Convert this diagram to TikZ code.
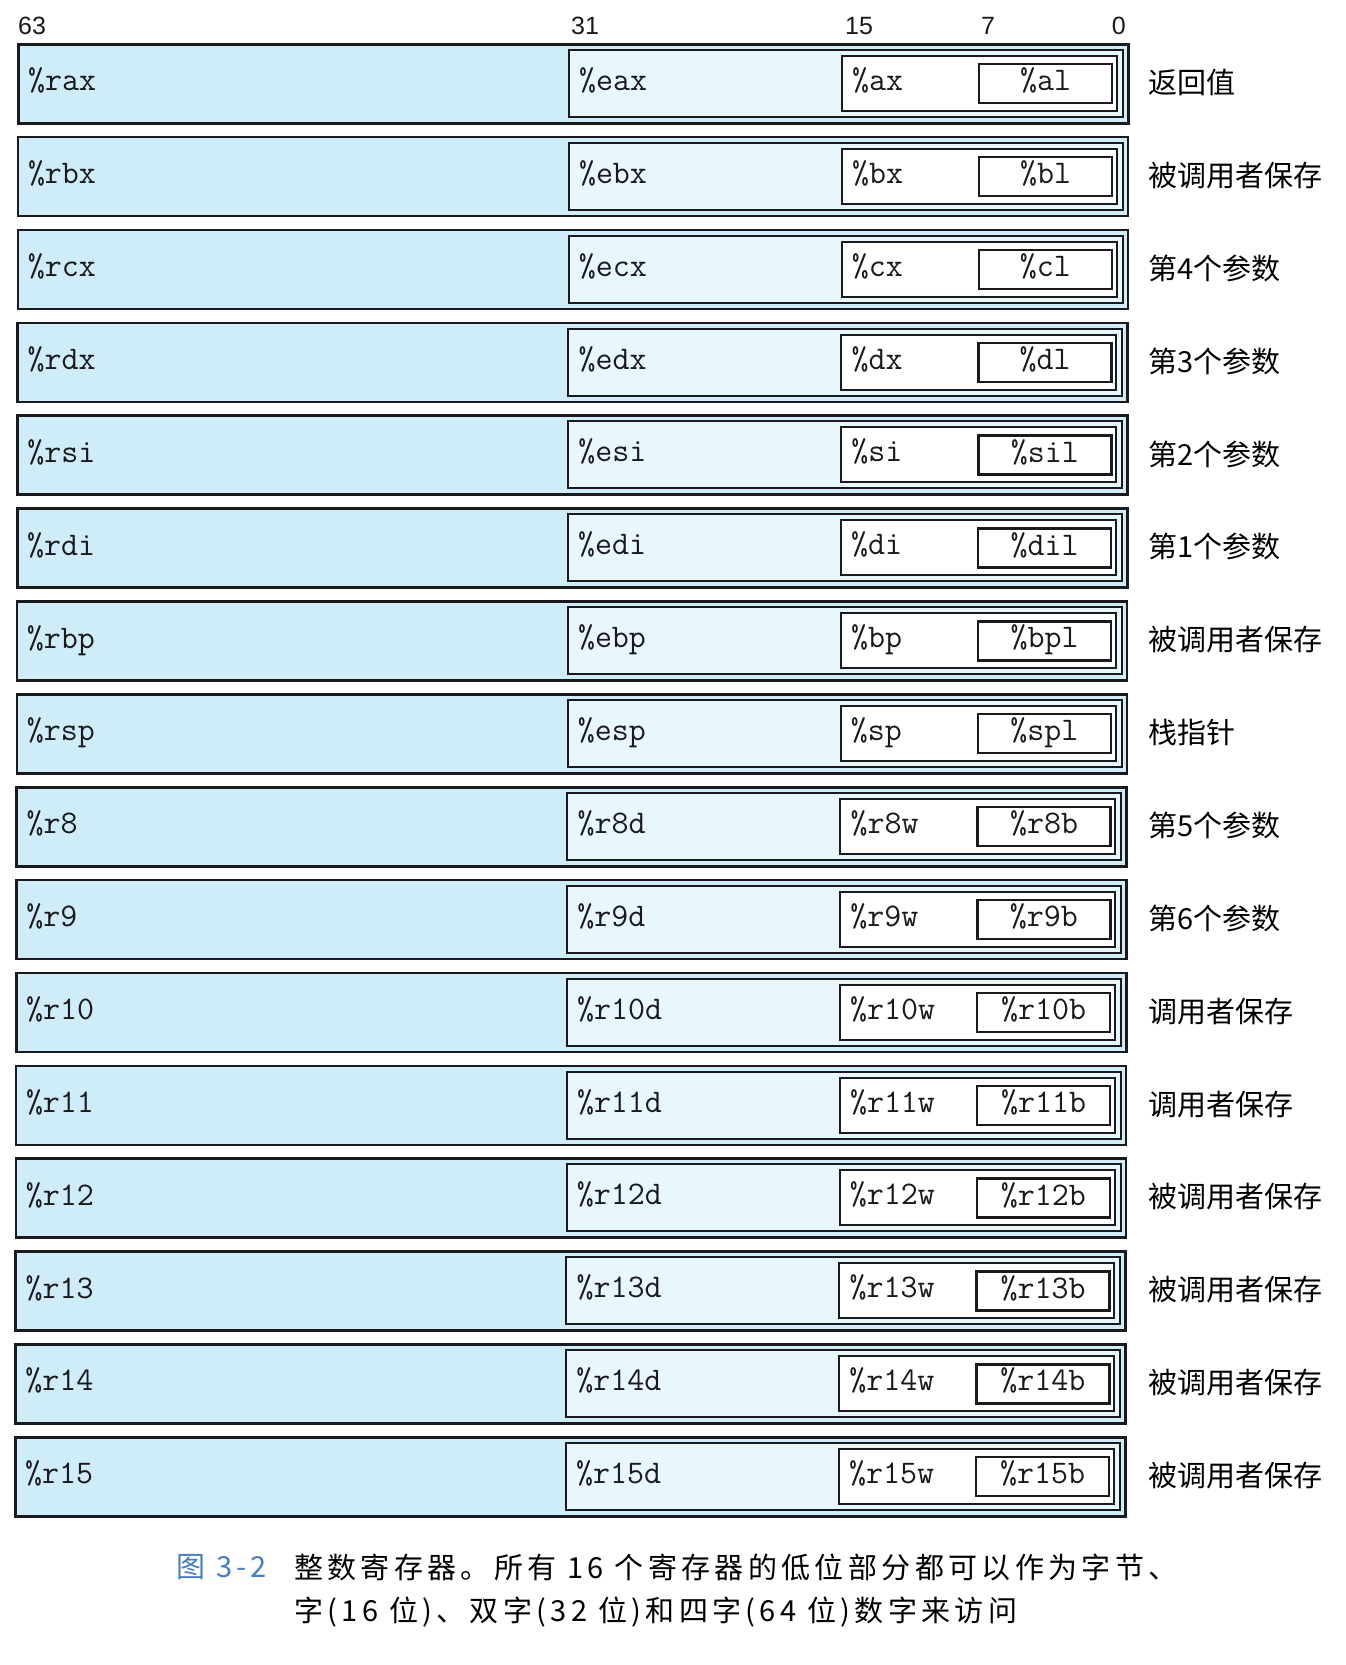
\documentclass[tikz,border=0pt]{standalone}
\usepackage{fontspec}
\newfontfamily\cjk{Noto Sans CJK SC}
\newfontfamily\cjkcap[LetterSpace=15]{Noto Sans CJK SC}
\newfontfamily\bitfont{Liberation Sans}
\definecolor{qfill}{RGB}{207,237,248}
\definecolor{dfill}{RGB}{232,247,252}
\definecolor{capblue}{RGB}{70,125,195}
\definecolor{edge}{RGB}{25,25,30}
\begin{document}
\begin{tikzpicture}[x=1pt,y=-1pt,
  regq/.style={rectangle, draw=edge, line width=2.6pt, fill=qfill, inner sep=0pt, minimum width=1110pt, minimum height=79pt, anchor=north west},
  regd/.style={rectangle, draw=edge, line width=2pt, fill=dfill, inner sep=0pt, minimum width=554pt, minimum height=67pt, anchor=north west},
  regw/.style={rectangle, draw=edge, line width=2pt, fill=white, inner sep=0pt, minimum width=275pt, minimum height=55pt, anchor=north west},
  regb/.style={rectangle, draw=edge, line width=2.4pt, fill=white, inner sep=0pt, minimum width=133pt, minimum height=39pt, anchor=north west},
  regtext/.style={font=\ttfamily\fontsize{33}{33}\selectfont, inner sep=0pt, text height=20pt, text depth=6pt, anchor=west, text=edge},
  note/.style={font=\cjk\fontsize{29}{29}\selectfont, inner sep=0pt, anchor=west, text=black},
  bitlab/.style={font=\bitfont\fontsize{25}{25}\selectfont, inner sep=0pt, text=edge},
  captext/.style={font=\cjkcap\fontsize{29}{29}\selectfont, inner sep=0pt, anchor=west}
]
\fill[white] (0,0) rectangle (1345,1665);
\useasboundingbox (0,0) rectangle (1345,1665);

\node[bitlab, anchor=west] (n63) at (18,26) {63};
\node[bitlab, anchor=west] (n31) at (571,26) {31};
\node[bitlab, anchor=west] (n15) at (845,26) {15};
\node[bitlab, anchor=west] (n7) at (981,26) {7};
\node[bitlab, anchor=east] (n0) at (1126,26) {0};

\foreach \i/\q/\d/\w/\b/\c in {
  0/rax/eax/ax/al/返回值,
  1/rbx/ebx/bx/bl/被调用者保存,
  2/rcx/ecx/cx/cl/第4个参数,
  3/rdx/edx/dx/dl/第3个参数,
  4/rsi/esi/si/sil/第2个参数,
  5/rdi/edi/di/dil/第1个参数,
  6/rbp/ebp/bp/bpl/被调用者保存,
  7/rsp/esp/sp/spl/栈指针,
  8/r8/r8d/r8w/r8b/第5个参数,
  9/r9/r9d/r9w/r9b/第6个参数,
  10/r10/r10d/r10w/r10b/调用者保存,
  11/r11/r11d/r11w/r11b/调用者保存,
  12/r12/r12d/r12w/r12b/被调用者保存,
  13/r13/r13d/r13w/r13b/被调用者保存,
  14/r14/r14d/r14w/r14b/被调用者保存,
  15/r15/r15d/r15w/r15b/被调用者保存}{
  \pgfmathsetmacro\T{43+92.87*\i}
  \pgfmathsetmacro\Tc{\T+39.5}
  \pgfmathsetmacro\Td{\T+6}
  \pgfmathsetmacro\Tw{\T+12}
  \pgfmathsetmacro\Tb{\T+20}
  \pgfmathsetmacro\xq{17-0.2*\i}
  \pgfmathsetmacro\xd{568-0.2*\i}
  \pgfmathsetmacro\xw{841-0.2*\i}
  \pgfmathsetmacro\xb{978-0.2*\i}
  \node[regq] (q\i) at (\xq,\T) {};
  \node[regd] (d\i) at (\xd,\Td) {};
  \node[regw] (w\i) at (\xw,\Tw) {};
  \node[regb] (b\i) at (\xb,\Tb) {};
  \node[regtext] (tq\i) at ([xshift=11pt]q\i.west) {\%\q};
  \node[regtext] (td\i) at ([xshift=11pt]d\i.west) {\%\d};
  \node[regtext] (tw\i) at ([xshift=11pt]w\i.west) {\%\w};
  \node[regtext, anchor=center] (tb\i) at (b\i.center) {\%\b};
  \node[note] (c\i) at (1148,\Tc) {\c};
}

\node[captext, text=capblue] (fig) at (176,1567) {图 3-2};
\node[captext] (cap1) at (294,1567) {整数寄存器。所有 16 个寄存器的低位部分都可以作为字节、};
\node[captext] (cap2) at (294,1612) {字(16 位)、双字(32 位)和四字(64 位)数字来访问};
\end{tikzpicture}
\end{document}
